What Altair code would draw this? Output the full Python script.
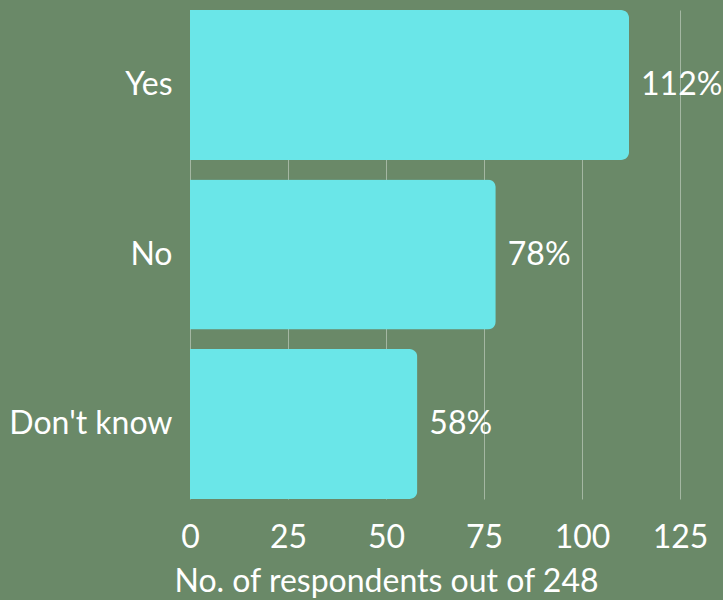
import altair as alt
import pandas as pd

categories = ["Yes", "No", "Don't know"]
values = [112, 78, 58]
labels = ["112%", "78%", "58%"]

df = pd.DataFrame({"answer": categories, "count": values, "label": labels})

FONT = "Lato"
FS = 32
BG = "#6A8968"
BAR = "#6AE6E8"

y = alt.Y("answer:N", sort=categories, title=None,
          scale=alt.Scale(paddingInner=0.115, paddingOuter=0),
          axis=alt.Axis(labelFontSize=FS, labelColor="white", labelFont=FONT,
                        labelPadding=18, ticks=False, domain=False, grid=False))
x = alt.X("count:Q", title="No. of respondents out of 248",
          scale=alt.Scale(domain=[0, 125], nice=False),
          axis=alt.Axis(values=[0, 25, 50, 75, 100, 125], labelFontSize=FS,
                        labelColor="white", labelFont=FONT, labelPadding=23,
                        labelFlush=False, labelOverlap=False,
                        titleFontSize=FS, titleColor="white", titleFont=FONT,
                        titleFontWeight="normal", titlePadding=13,
                        titleX=196, titleAlign="center",
                        ticks=False, domain=False, grid=True,
                        gridColor="#A4B7A2", gridWidth=1))

bars = alt.Chart(df).mark_bar(color=BAR, cornerRadiusEnd=8).encode(x=x, y=y)
text = alt.Chart(df).mark_text(align="left", baseline="middle", dx=12, fontSize=FS,
                               font=FONT, color="white").encode(
    x="count:Q", y=alt.Y("answer:N", sort=categories), text="label:N")

chart = (bars + text).properties(
    width=490, height=489, background=BG,
    autosize=alt.AutoSizeParams(type="none"),
    padding={"left": 190, "top": 10, "right": 43, "bottom": 101},
).configure_view(stroke=None)

chart.save("out.html", embed_options={"renderer": "svg", "actions": False})
